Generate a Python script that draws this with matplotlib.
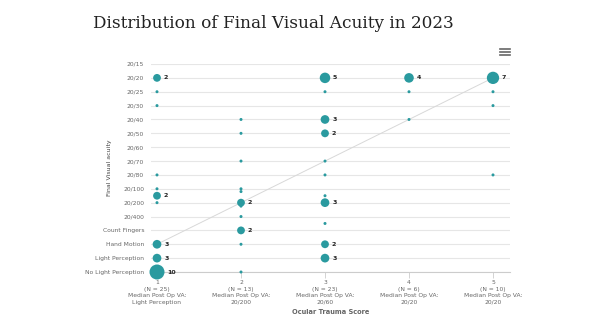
import matplotlib
matplotlib.use("Agg")
import matplotlib.pyplot as plt
import numpy as np

# y categories, bottom to top
va_labels = ['No Light Perception', 'Light Perception', 'Hand Motion', 'Count Fingers',
             '20/400', '20/200', '20/100', '20/80', '20/70', '20/60', '20/50', '20/40',
             '20/30', '20/25', '20/20', '20/15']

# (ocular trauma score, visual acuity position, count)
ots1_y = [14, 13, 12, 7, 6, 5.5, 5, 2, 1, 0]
ots1_n = [2, 1, 1, 1, 1, 2, 1, 3, 3, 10]
ots2_y = [11, 10, 8, 6, 5.8, 5, 4.75, 4, 3, 2, 0]
ots2_n = [1, 1, 1, 1, 1, 2, 1, 1, 2, 1, 1]
ots3_y = [14, 13, 11, 10, 8, 7, 5.5, 5, 3.5, 2, 1]
ots3_n = [5, 1, 3, 2, 1, 1, 1, 3, 1, 2, 3]
ots4_y = [14, 13, 11]
ots4_n = [4, 1, 1]
ots5_y = [14, 13, 12, 7]
ots5_n = [7, 1, 1, 1]

groups = [(1, ots1_y, ots1_n), (2, ots2_y, ots2_n), (3, ots3_y, ots3_n),
          (4, ots4_y, ots4_n), (5, ots5_y, ots5_n)]

x_labels = ['1\n(N = 25)\nMedian Post Op VA:\nLight Perception',
            '2\n(N = 13)\nMedian Post Op VA:\n20/200',
            '3\n(N = 23)\nMedian Post Op VA:\n20/60',
            '4\n(N = 6)\nMedian Post Op VA:\n20/20',
            '5\n(N = 10)\nMedian Post Op VA:\n20/20']

trend_x = [1, 5]
trend_y = [2, 14]

teal = '#2a9a9f'
grid_c = '#e6e6e6'
text_c = '#666666'


def radius(n):
    # pixel radius of a bubble
    if n == 1:
        return 1.5
    return 3 + 0.45 * n


fig = plt.figure(figsize=(6.09, 3.34), dpi=100)
ax = fig.add_axes([151 / 609, 1 - 272 / 334, (510 - 151) / 609, (272 - 64) / 334])

for i in range(len(va_labels)):
    ax.axhline(i, color=grid_c, lw=0.8, zorder=0)

ax.plot(trend_x, trend_y, color='#d8d8d8', lw=0.7, zorder=1)

for x, ys, ns in groups:
    xs = [x] * len(ys)
    s = [(2 * radius(n) * 0.72) ** 2 for n in ns]
    ax.scatter(xs, ys, s=s, color=teal, edgecolors='none', zorder=3, clip_on=False)
    for y, n in zip(ys, ns):
        if n > 1:
            ax.annotate(str(n), (x, y), xytext=(radius(n) * 0.72 + 2, 0),
                        textcoords='offset points', va='center', ha='left',
                        fontsize=4.5, fontweight='bold', color='#222222')

ax.set_xlim(1 - 6 / 84, 5 + 17 / 84)
ax.set_ylim(0, 15)
ax.set_yticks(range(len(va_labels)))
ax.set_yticklabels(va_labels)
ax.set_xticks([1, 2, 3, 4, 5])
ax.set_xticklabels(x_labels, linespacing=1.35)
ax.tick_params(axis='y', length=0, labelsize=4.3, labelcolor=text_c, pad=5)
ax.tick_params(axis='x', length=4, width=0.6, color='#cccccc', labelsize=4.3,
               labelcolor=text_c, pad=2)
for sp in ['top', 'right', 'left']:
    ax.spines[sp].set_visible(False)
ax.spines['bottom'].set_color('#cccccc')
ax.spines['bottom'].set_linewidth(0.8)

ax.set_ylabel('Final Visual acuity', fontsize=4.5, color='#444444')
ax.yaxis.set_label_coords((112 - 151) / 359, 0.5)
ax.set_xlabel('Ocular Trauma Score', fontsize=4.8, color=text_c, fontweight='bold', labelpad=3)

fig.text(93 / 609, 1 - 23 / 334, 'Distribution of Final Visual Acuity in 2023',
         fontsize=12.2, family='DejaVu Serif', color='#222222', va='center', ha='left')

# menu icon
for dy in [49, 52, 55]:
    fig.add_artist(plt.Line2D([500 / 609, 510 / 609], [1 - dy / 334] * 2,
                              color='#666666', lw=1.2))

fig.savefig('out.png', dpi=100, facecolor='white')
